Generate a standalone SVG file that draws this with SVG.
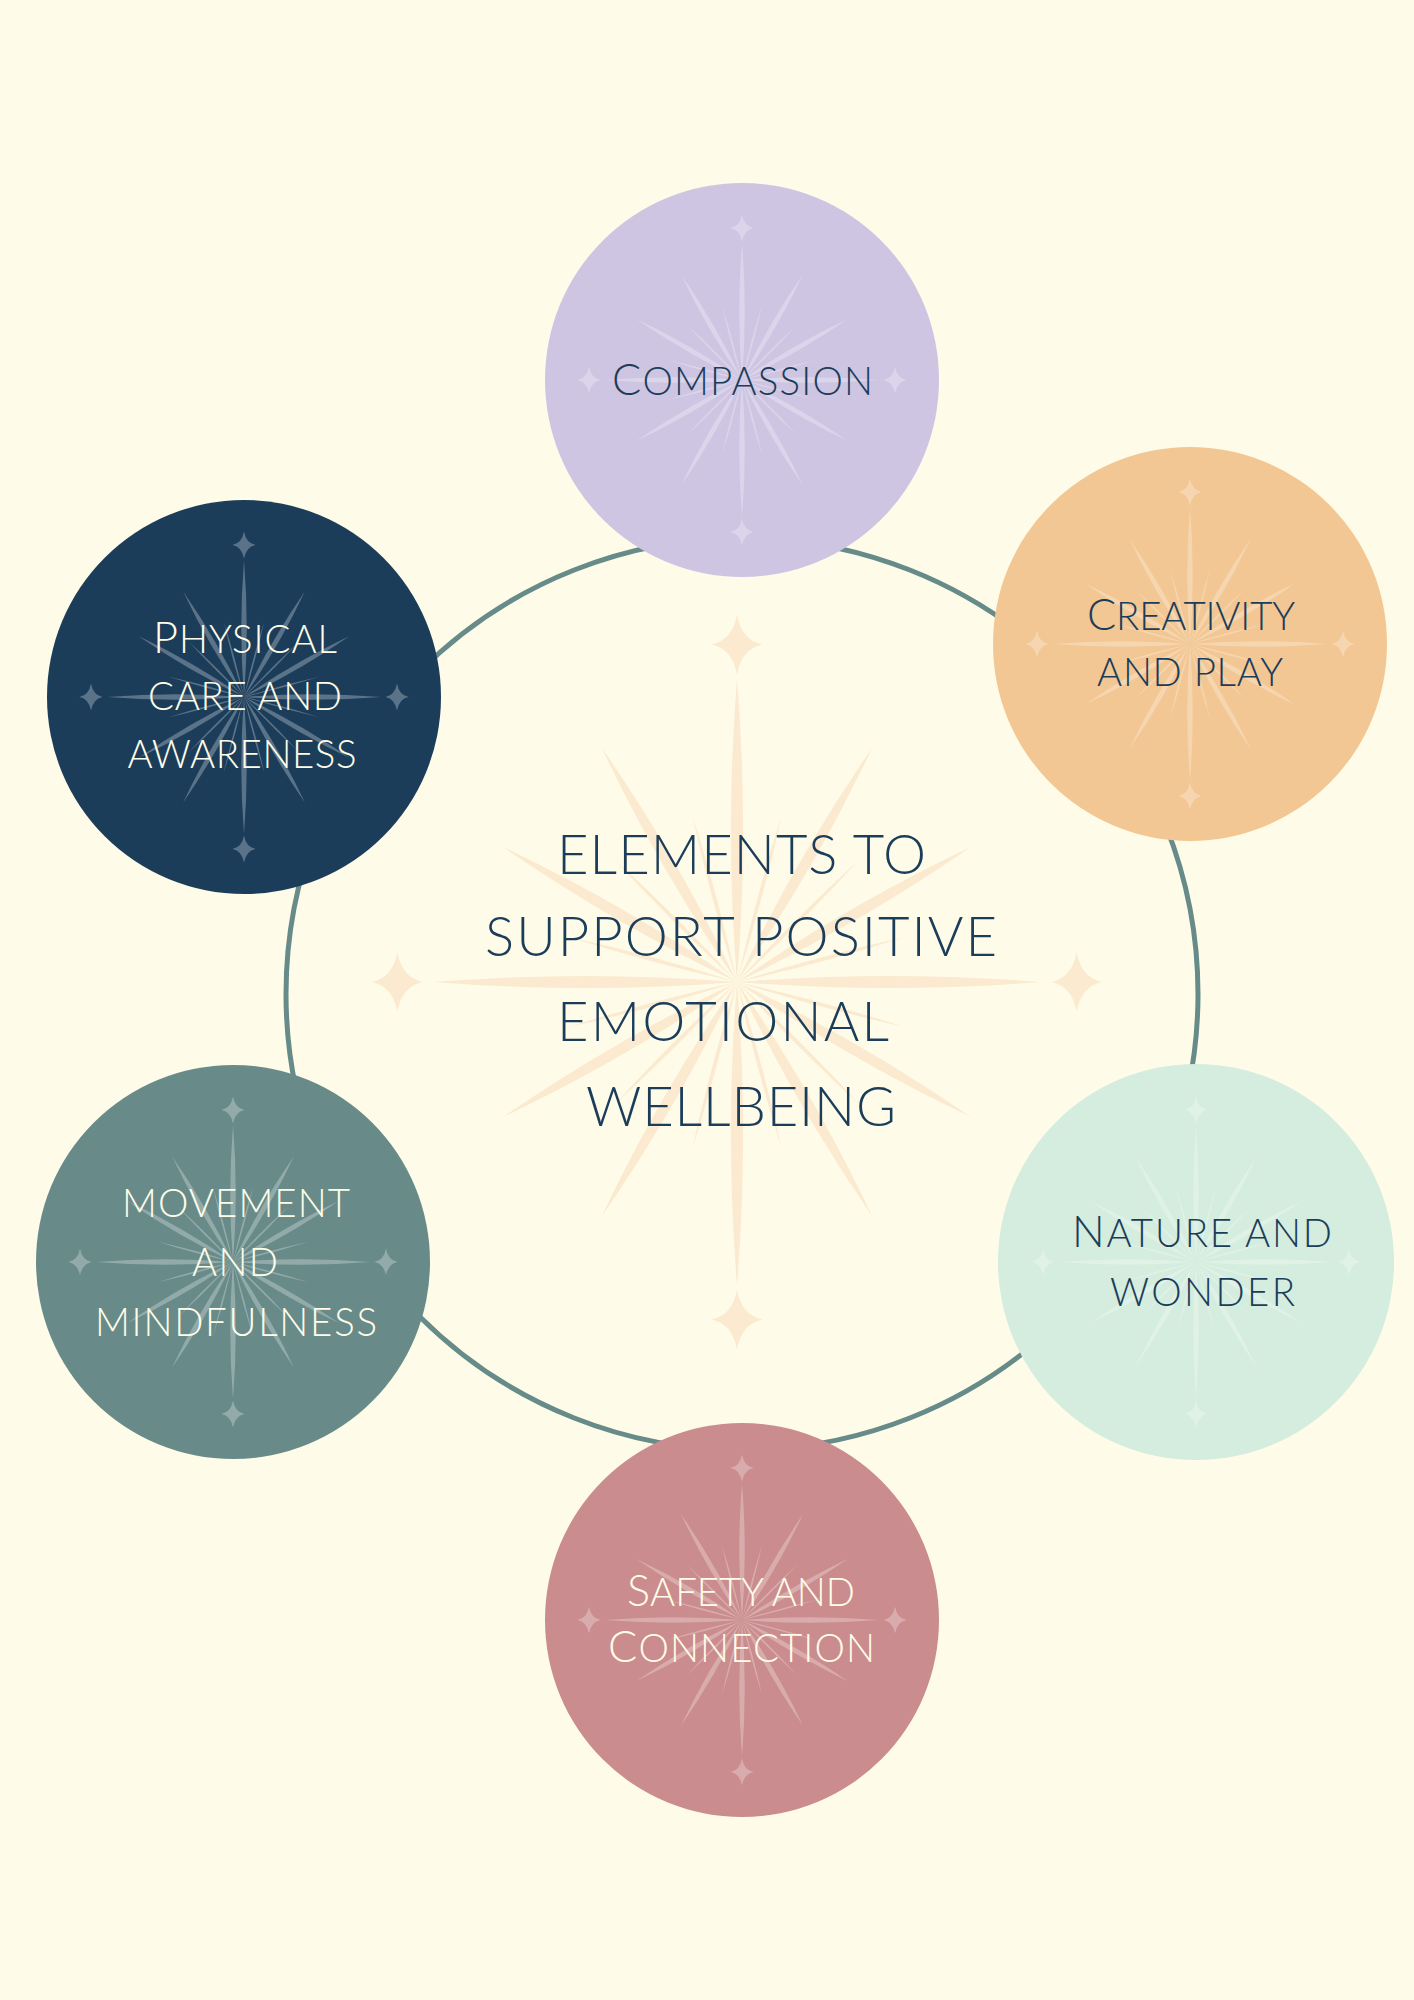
<svg xmlns="http://www.w3.org/2000/svg" xmlns:xlink="http://www.w3.org/1999/xlink" width="1414" height="2000" viewBox="0 0 1414 2000">
<style>
text{font-family:"Lato","Open Sans","Liberation Sans",sans-serif;font-weight:300;text-anchor:middle}
.lbl{font-size:38.4px}
.big{font-size:43.3px}
.ttl{font-size:54.4px}
.dk{fill:#1C3D5A}
.lt{fill:#FFFDE8}
.burst{fill:#FFFFFF;fill-opacity:0.28}
</style>
<defs>
<path id="rm" d="M0,0Q5.5,-68 0,-137Q-5.5,-68 0,0Z"/>
<path id="rd" d="M0,0Q5,-61 0,-122Q-5,-61 0,0Z"/>
<path id="rt" d="M0,0Q1.8,-39 0,-78Q-1.8,-39 0,0Z"/>
<path id="st" d="M0,-13.5Q2,-2 11.5,0Q2,2 0,13.5Q-2,2 -11.5,0Q-2,-2 0,-13.5Z"/>
<g id="burst">
<use href="#rm"/><use href="#rm" transform="rotate(90)"/><use href="#rm" transform="rotate(180)"/><use href="#rm" transform="rotate(270)"/>
<use href="#rd" transform="rotate(30)"/><use href="#rd" transform="rotate(60)"/><use href="#rd" transform="rotate(120)"/><use href="#rd" transform="rotate(150)"/>
<use href="#rd" transform="rotate(210)"/><use href="#rd" transform="rotate(240)"/><use href="#rd" transform="rotate(300)"/><use href="#rd" transform="rotate(330)"/>
<use href="#rt" transform="rotate(15)"/><use href="#rt" transform="rotate(45)"/><use href="#rt" transform="rotate(75)"/><use href="#rt" transform="rotate(105)"/>
<use href="#rt" transform="rotate(135)"/><use href="#rt" transform="rotate(165)"/><use href="#rt" transform="rotate(195)"/><use href="#rt" transform="rotate(225)"/>
<use href="#rt" transform="rotate(255)"/><use href="#rt" transform="rotate(285)"/><use href="#rt" transform="rotate(315)"/><use href="#rt" transform="rotate(345)"/>
<use href="#st" transform="translate(0,-152)"/><use href="#st" transform="translate(0,152)"/><use href="#st" transform="translate(-153,0)"/><use href="#st" transform="translate(153,0)"/>
</g>
</defs>
<rect width="1414" height="2000" fill="#FEFCE8"/>
<g id="center-burst">
<use href="#burst" transform="translate(737,982) scale(2.22)" fill="#FBEAD0"/>
</g>
<g id="connectors">
<circle cx="742" cy="994" r="456" fill="none" stroke="#678B88" stroke-width="5"/>
</g>
<g id="node-compassion">
<circle cx="742" cy="380" r="197" fill="#CEC5E3"/>
<use href="#burst" class="burst" transform="translate(742,380)"/>
<text class="lbl dk" x="742.5" y="395" textLength="261" lengthAdjust="spacing"><tspan class="big">C</tspan>OMPASSION</text>
</g>
<g id="node-creativity">
<circle cx="1190" cy="644" r="197" fill="#F2C793"/>
<use href="#burst" class="burst" transform="translate(1190,644)"/>
<text class="lbl dk" x="1191" y="630" textLength="208" lengthAdjust="spacing"><tspan class="big">C</tspan>REATIVITY</text>
<text class="lbl dk" x="1190" y="686" textLength="186" lengthAdjust="spacing">AND PLAY</text>
</g>
<g id="node-physical">
<circle cx="244" cy="697" r="197" fill="#1C3D5A"/>
<use href="#burst" class="burst" transform="translate(244,697)"/>
<text class="lbl lt" x="245" y="653" textLength="184" lengthAdjust="spacing"><tspan class="big">P</tspan>HYSICAL</text>
<text class="lbl lt" x="245" y="710" textLength="194" lengthAdjust="spacing">CARE AND</text>
<text class="lbl lt" x="242" y="768" textLength="229" lengthAdjust="spacing">AWARENESS</text>
</g>
<g id="node-movement">
<circle cx="233" cy="1262" r="197" fill="#688B89"/>
<use href="#burst" class="burst" transform="translate(233,1262)"/>
<text class="lbl lt" x="236" y="1217" textLength="228" lengthAdjust="spacing">MOVEMENT</text>
<text class="lbl lt" x="235" y="1276" textLength="86" lengthAdjust="spacing">AND</text>
<text class="lbl lt" x="236" y="1336" textLength="282" lengthAdjust="spacing">MINDFULNESS</text>
</g>
<g id="node-nature">
<circle cx="1196" cy="1262" r="198" fill="#D4EDDE"/>
<use href="#burst" class="burst" transform="translate(1196,1262)"/>
<text class="lbl dk" x="1202" y="1247" textLength="260" lengthAdjust="spacing"><tspan class="big">N</tspan>ATURE AND</text>
<text class="lbl dk" x="1202.5" y="1306" textLength="185" lengthAdjust="spacing">WONDER</text>
</g>
<g id="node-safety">
<circle cx="742" cy="1620" r="197" fill="#CA8C8E"/>
<use href="#burst" class="burst" transform="translate(742,1620)"/>
<text class="lbl lt" x="741" y="1606" textLength="228" lengthAdjust="spacing"><tspan class="big">S</tspan>AFETY AND</text>
<text class="lbl lt" x="741.5" y="1662" textLength="267" lengthAdjust="spacing"><tspan class="big">C</tspan>ONNECTION</text>
</g>
<g id="title">
<text class="ttl dk" x="741.5" y="874" textLength="369" lengthAdjust="spacing">ELEMENTS TO</text>
<text class="ttl dk" x="741" y="956" textLength="512" lengthAdjust="spacing">SUPPORT POSITIVE</text>
<text class="ttl dk" x="723" y="1041" textLength="332" lengthAdjust="spacing">EMOTIONAL</text>
<text class="ttl dk" x="741" y="1126" textLength="310" lengthAdjust="spacing">WELLBEING</text>
</g>
</svg>
